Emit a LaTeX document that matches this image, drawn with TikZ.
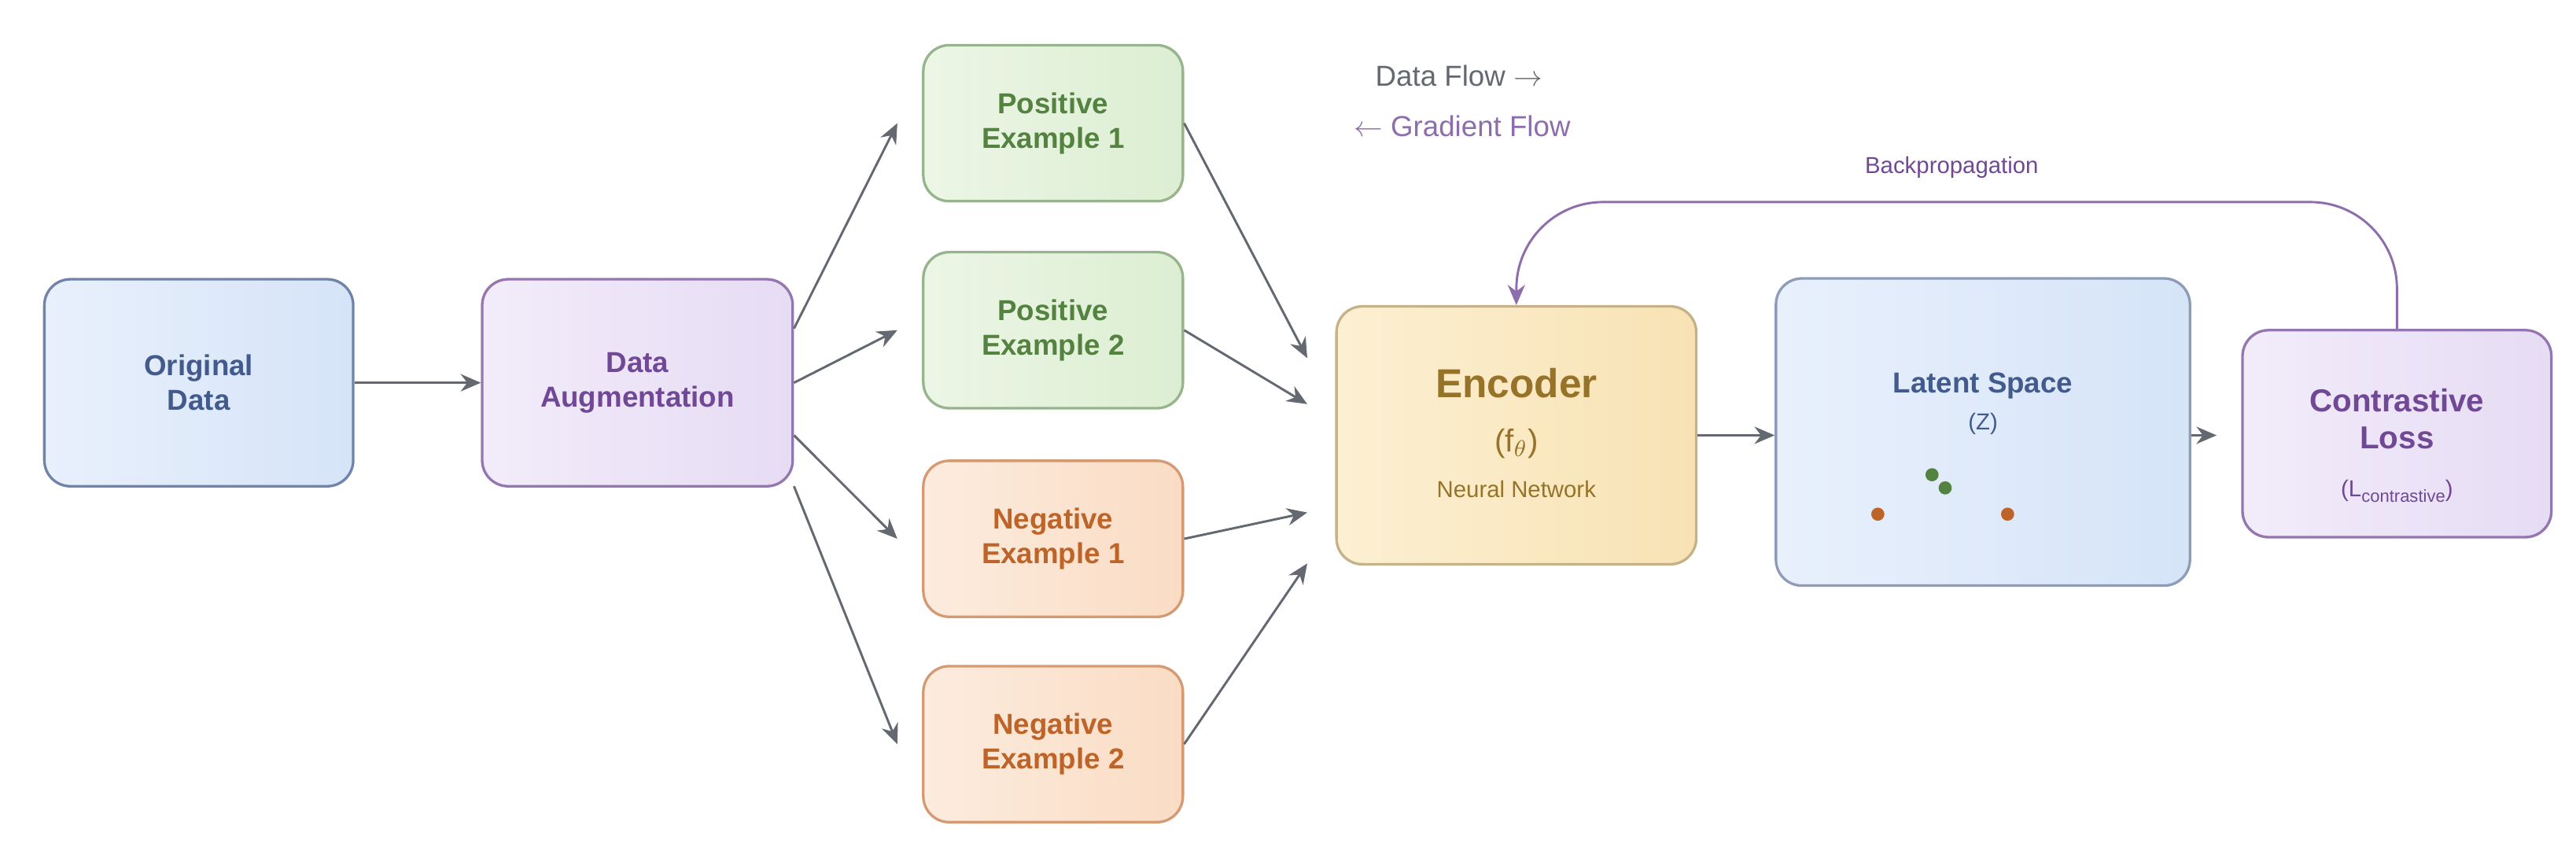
\documentclass[tikz,border=0pt]{standalone}
\usepackage{fontspec}
\setmainfont{Liberation Sans}
\usepackage{xcolor}
\definecolor{origblue}{RGB}{66,90,140}
\definecolor{augpurple}{RGB}{112,72,150}
\definecolor{posgreen}{RGB}{84,130,64}
\definecolor{negorange}{RGB}{190,100,40}
\definecolor{encgold}{RGB}{150,115,40}
\definecolor{arrowgray}{RGB}{100,104,112}
\definecolor{blueA}{RGB}{232,240,252}
\definecolor{blueB}{RGB}{214,228,248}
\definecolor{violetA}{RGB}{242,236,250}
\definecolor{violetB}{RGB}{230,220,244}
\definecolor{greenA}{RGB}{236,246,230}
\definecolor{greenB}{RGB}{220,238,210}
\definecolor{orangeA}{RGB}{252,236,222}
\definecolor{orangeB}{RGB}{250,220,196}
\definecolor{goldA}{RGB}{252,240,210}
\definecolor{goldB}{RGB}{248,226,180}
\usetikzlibrary{shapes,arrows,arrows.meta,positioning,calc}

\begin{document}
\begin{tikzpicture}[
    x=0.2mm, y=-0.2mm,
    box/.style={rectangle, rounded corners=9pt, line width=0.9pt, align=center, font=\fontsize{10}{12}\selectfont\bfseries},
    bluebox/.style={box, draw=origblue!75, left color=blueA, right color=blueB, text=origblue},
    purplebox/.style={box, draw=augpurple!75, left color=violetA, right color=violetB, text=augpurple},
    posbox/.style={box, draw=posgreen!60, left color=greenA, right color=greenB, text=posgreen, minimum width=31.6mm, minimum height=19mm},
    negbox/.style={box, draw=negorange!65, left color=orangeA, right color=orangeB, text=negorange, minimum width=31.6mm, minimum height=19mm},
    arrow/.style={-{Stealth[length=7pt,width=6pt]}, line width=0.8pt, arrowgray}
]
\useasboundingbox (0,0) rectangle (1568,518);

% Input
\node[bluebox, minimum width=37.6mm, minimum height=25.2mm] (orig) at (121,233) {Original\\Data};
\node[purplebox, minimum width=37.8mm, minimum height=25.2mm] (aug) at (388,233) {Data\\Augmentation};

% Views
\node[posbox] (pos1) at (641,75) {Positive\\Example 1};
\node[posbox] (pos2) at (641,201) {Positive\\Example 2};
\node[negbox] (neg1) at (641,328) {Negative\\Example 1};
\node[negbox] (neg2) at (641,453) {Negative\\Example 2};

% Model
\node[box, draw=encgold!55, left color=goldA, right color=goldB, minimum width=43.8mm, minimum height=31.4mm] (enc) at (923,265) {};
\node[font=\fontsize{14}{16}\selectfont\bfseries, text=encgold] (enctitle) at (923,233) {Encoder};
\node[font=\fontsize{11}{13}\selectfont, text=encgold] (encf) at (923,270) {(f$_\theta$)};
\node[font=\fontsize{8}{10}\selectfont, text=encgold] (encnn) at (923,298) {Neural Network};

\node[bluebox, draw=origblue!60, minimum width=50.4mm, minimum height=37.4mm] (lat) at (1207,263) {};
\node[font=\fontsize{10}{12}\selectfont\bfseries, text=origblue] (lattitle) at (1207,235) {Latent Space};
\node[font=\fontsize{8}{10}\selectfont, text=origblue] (latz) at (1207,258) {(Z)};
\fill[posgreen] (1176,289) circle (4);
\fill[posgreen] (1184,297) circle (4);
\fill[negorange] (1143,313) circle (4);
\fill[negorange] (1222,313) circle (4);

\node[purplebox, minimum width=37.6mm, minimum height=25.2mm] (loss) at (1459,264) {};
\node[font=\fontsize{11}{13}\selectfont\bfseries, text=augpurple, align=center] (losstitle) at (1459,255) {Contrastive\\Loss};
\node[font=\fontsize{8}{10}\selectfont, text=augpurple] (lossl) at (1459,299) {(L\raisebox{-0.4ex}{\fontsize{6}{7}\selectfont contrastive})};

% Data flow
\draw[arrow] (orig) -- (aug);
\draw[arrow] ($(aug.east)+(0,-33)$) -- ($(pos1.west)+(-15,0)$);
\draw[arrow] (aug.east) -- ($(pos2.west)+(-15,0)$);
\draw[arrow] ($(aug.east)+(0,32)$) -- ($(neg1.west)+(-15,0)$);
\draw[arrow] ($(aug.east)+(0,63)$) -- ($(neg2.west)+(-15,0)$);
\draw[arrow] (pos1.east) -- ($(enc.west)+(-17,-47)$);
\draw[arrow] (pos2.east) -- ($(enc.west)+(-17,-19)$);
\draw[arrow] (neg1.east) -- ($(enc.west)+(-17,47)$);
\draw[arrow] (neg2.east) -- ($(enc.west)+(-17,78)$);
\draw[arrow] (enc.east) -- (lat.west |- enc.east);
\draw[arrow] (lat.east |- enc.east) -- ($(loss.west |- enc.east)+(-15,0)$);

% Backpropagation
\draw[-{Stealth[length=7pt,width=6pt]}, line width=0.8pt, augpurple!80, rounded corners=30pt] (loss.north) |- (enc.north |- 0,123) -- (enc.north);
\node[font=\fontsize{8}{10}\selectfont, text=augpurple] (bplabel) at (1188,102) {Backpropagation};

% Legend
\node[font=\fontsize{10}{12}\selectfont, text=arrowgray] (legdata) at (888,46) {Data Flow $\rightarrow$};
\node[font=\fontsize{10}{12}\selectfont, text=augpurple!80] (leggrad) at (890,77) {$\leftarrow$ Gradient Flow};
\end{tikzpicture}
\end{document}
